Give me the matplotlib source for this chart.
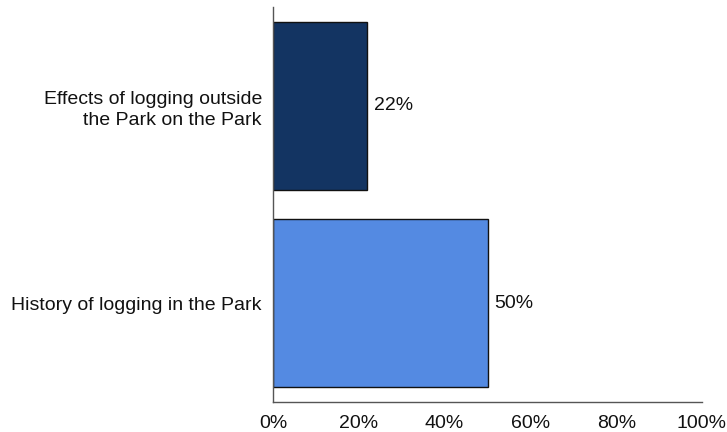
import matplotlib
matplotlib.use("Agg")
import matplotlib.pyplot as plt
from matplotlib.ticker import FuncFormatter

categories = ["History of logging in the Park", "Effects of logging outside\nthe Park on the Park"]
values = [50, 22]
colors = ["#548AE2", "#133462"]
xticks = [0, 20, 40, 60, 80, 100]

plt.rcParams['font.family'] = ['Liberation Sans', 'DejaVu Sans']

fig = plt.figure(figsize=(7.27, 4.32), dpi=100)
ax = fig.add_axes([273/727, 1 - 402/432, (702-273)/727, (402-7)/432])

ypos = list(range(len(categories)))
ax.barh(ypos, values, height=0.85, color=colors, edgecolor="#111111", linewidth=1.0)
for y, v in zip(ypos, values):
    ax.annotate(f"{v}%", xy=(v, y), xytext=(5, 0), textcoords="offset points",
                ha="left", va="center", fontsize=14, color="#111111")

ax.set_xlim(0, 100)
ax.set_ylim(-0.5, 1.5)
ax.set_xticks(xticks)
ax.xaxis.set_major_formatter(FuncFormatter(lambda x, p: f"{int(x)}%"))
ax.set_yticks(ypos)
ax.set_yticklabels(categories, fontsize=14, color="#111111", ha="right", linespacing=1.3)
ax.tick_params(axis="both", length=0, labelsize=14, colors="#111111")
ax.tick_params(axis="x", pad=9)
ax.tick_params(axis="y", pad=8)
for s in ["top", "right"]:
    ax.spines[s].set_visible(False)
for s in ["left", "bottom"]:
    ax.spines[s].set_color("#555555")
    ax.spines[s].set_linewidth(1.0)

fig.savefig("out.png", dpi=100)
